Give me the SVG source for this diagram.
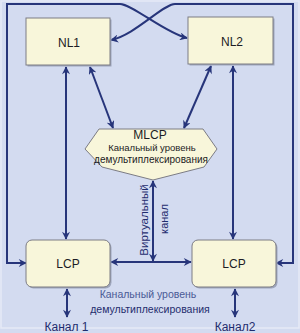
<svg xmlns="http://www.w3.org/2000/svg" width="300" height="333" viewBox="0 0 300 333">
<style>
.box{fill:#f8f6da;stroke:#7c7c84;stroke-width:1}
.shadow{fill:#9ea6bc}
.ln{fill:none;stroke:#27357a;stroke-width:2}
.t{font-family:"Liberation Sans",Arial,sans-serif;fill:#1c1c24;text-anchor:middle}
.b{font-family:"Liberation Sans",Arial,sans-serif;fill:#1f2d6e;text-anchor:middle}
.l{fill:#4a5a96}
</style>
<defs>
<marker id="ah" viewBox="0 0 10 10" refX="9" refY="5" markerWidth="9" markerHeight="8" markerUnits="userSpaceOnUse" orient="auto-start-reverse">
<path d="M0,0 L10,5 L0,10 L3,5 z" fill="#27357a"/>
</marker>
</defs>
<rect x="0" y="0" width="300" height="333" fill="#d3dbf0"/>
<rect x="1" y="1" width="298" height="327" fill="none" stroke="#e6eaf6" stroke-width="1.5"/>

<g id="connectors">
<path class="ln" d="M26,263 L7,263 L7,4 L120,4 C132,4 165,33 187,38" marker-start="url(#ah)" marker-end="url(#ah)"/>
<path class="ln" d="M276,263 L293,263 L293,4 L175,4 C163,4 135,35 111,40" marker-start="url(#ah)" marker-end="url(#ah)"/>
<path class="ln" d="M66,67 L66,239" marker-start="url(#ah)" marker-end="url(#ah)"/>
<path class="ln" d="M233,66 L233,239" marker-start="url(#ah)" marker-end="url(#ah)"/>
<path class="ln" d="M113,128 L90,67" marker-start="url(#ah)" marker-end="url(#ah)"/>
<path class="ln" d="M184,128 L211,66" marker-start="url(#ah)" marker-end="url(#ah)"/>
<path class="ln" d="M153,181 L153,261" marker-start="url(#ah)" marker-end="url(#ah)"/>
<path class="ln" d="M111,262 L191,262" marker-start="url(#ah)" marker-end="url(#ah)"/>
<path class="ln" d="M67,289 L67,317" marker-start="url(#ah)" marker-end="url(#ah)"/>
<path class="ln" d="M235,289 L235,317" marker-start="url(#ah)" marker-end="url(#ah)"/>
</g>

<g id="NL1">
<rect class="shadow" x="27.5" y="19.5" width="84" height="47"/>
<rect class="box" x="26" y="18" width="84" height="47"/>
<text class="t" x="69" y="47" font-size="12">NL1</text>
</g>
<g id="NL2">
<rect class="shadow" x="189.5" y="18.5" width="85" height="47"/>
<rect class="box" x="188" y="17" width="85" height="47"/>
<text class="t" x="232" y="46" font-size="12">NL2</text>
</g>
<g id="MLCP">
<polygon class="box" points="99,129 203,129 217,149 204,167 153,180 102,167 85,149"/>
<text class="t" x="150" y="138.5" font-size="12">MLCP</text>
<text class="t" x="152" y="151" font-size="9.5">Канальный уровень</text>
<text class="t" x="151" y="162.5" font-size="10">демультиплексирования</text>
</g>
<g id="LCP1">
<rect class="shadow" x="27.5" y="241.5" width="84" height="47" rx="6"/>
<rect class="box" x="26" y="240" width="84" height="47" rx="6"/>
<text class="t" x="68" y="268" font-size="12">LCP</text>
</g>
<g id="LCP2">
<rect class="shadow" x="193.5" y="241.5" width="84" height="47" rx="6"/>
<rect class="box" x="192" y="240" width="84" height="47" rx="6"/>
<text class="t" x="234" y="268" font-size="12">LCP</text>
</g>
<g id="labels">
<text class="b" transform="translate(148,220) rotate(-90)" font-size="11.5">Виртуальный</text>
<text class="b" transform="translate(168,219) rotate(-90)" font-size="11">канал</text>
<text class="b l" x="148" y="298" font-size="10.5">Канальный уровень</text>
<text class="b" x="150" y="313" font-size="10.5">демультиплексирования</text>
<text class="b" x="66.5" y="331" font-size="12">Канал 1</text>
<text class="b" x="235" y="331" font-size="12">Канал2</text>
</g>
</svg>
